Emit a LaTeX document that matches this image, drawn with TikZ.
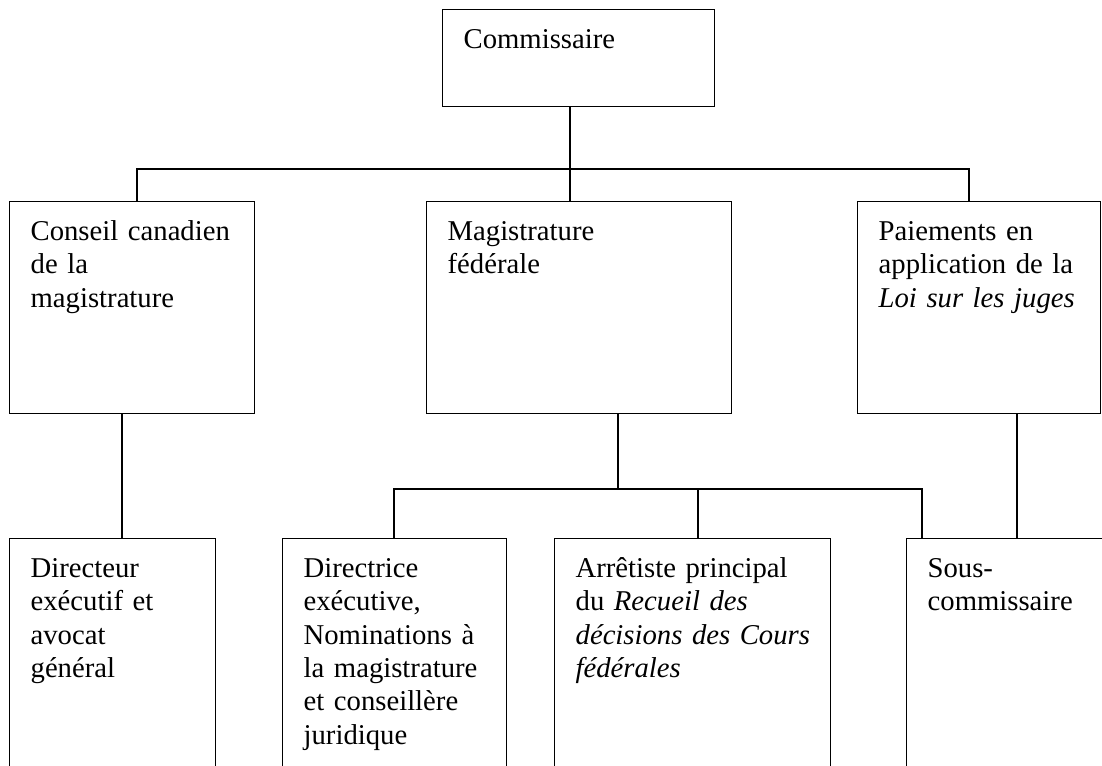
\documentclass[tikz,border=0pt]{standalone}
\usepackage{fontspec}
\setmainfont{Liberation Serif}
\usepackage{tikz}
\newcommand{\taille}{\fontsize{28.7pt}{33.3pt}\selectfont}
\newcommand{\prof}{173pt}
\newcommand{\profbas}{223pt}
\tikzstyle{trait}=[line width=1.3pt]
\tikzstyle{boite}=[draw,line width=1.3pt,anchor=north west,align=left,inner xsep=21pt,inner ysep=0pt,text height=39pt,font=\taille]

\begin{document}
\begin{tikzpicture}[x=1pt,y=-1pt]

\useasboundingbox (0,0) rectangle (1102,765);
\clip (0,0) rectangle (1102,765);

\node[boite,text width=230pt,text depth=58pt] (comm) at (442,9) {Commissaire};

\node[boite,text width=203pt,text depth=\prof] (ccm) at (9,201) {Conseil canadien\\de la\\magistrature};
\node[boite,text width=263pt,text depth=\prof] (magfed) at (426,201) {Magistrature\\f\'ed\'erale};
\node[boite,text width=201pt,text depth=\prof] (paiements) at (857,201) {Paiements en\\application de la\\\textit{Loi sur les juges}};

\node[boite,text width=164pt,text depth=\profbas] (dirx) at (9,538) {Directeur\\ex\'ecutif et\\avocat\\g\'en\'eral};
\node[boite,text width=182pt,text depth=\profbas] (dirnom) at (282,538) {Directrice\\ex\'ecutive,\\Nominations \`a\\la magistrature\\et conseill\`ere\\juridique};
\node[boite,text width=234pt,text depth=\profbas] (arret) at (554,538) {Arr\^etiste principal\\du \textit{Recueil des}\\\mbox{\textit{d\'ecisions des Cours}}\\\textit{f\'ed\'erales}};
\node[boite,text width=178pt,text depth=\profbas] (souscomm) at (906,538) {Sous-\\commissaire};

\coordinate (j0) at (570,169);
\coordinate (j1) at (137,169);
\coordinate (j3) at (969,169);
\coordinate (k0) at (618,489);
\coordinate (k1) at (394,489);
\coordinate (k2) at (698,489);
\coordinate (k3) at (922,489);
\coordinate (m1) at (122,450);
\coordinate (m3) at (1017,450);

\draw[trait] (comm.south -| j0) -- (j0);
\draw[trait] (j1 |- ccm.north) |- (j0) -| (j3 |- paiements.north);
\draw[trait] (j0) -- (j0 |- magfed.north);

\draw[trait] (magfed.south -| k0) -- (k0);
\draw[trait] (k1 |- dirnom.north) |- (k0) -| (k3 |- souscomm.north);
\draw[trait] (k2) -- (k2 |- arret.north);

\draw[trait] (ccm.south -| m1) -- (dirx.north -| m1);
\draw[trait] (paiements.south -| m3) -- (souscomm.north -| m3);

\end{tikzpicture}
\end{document}
